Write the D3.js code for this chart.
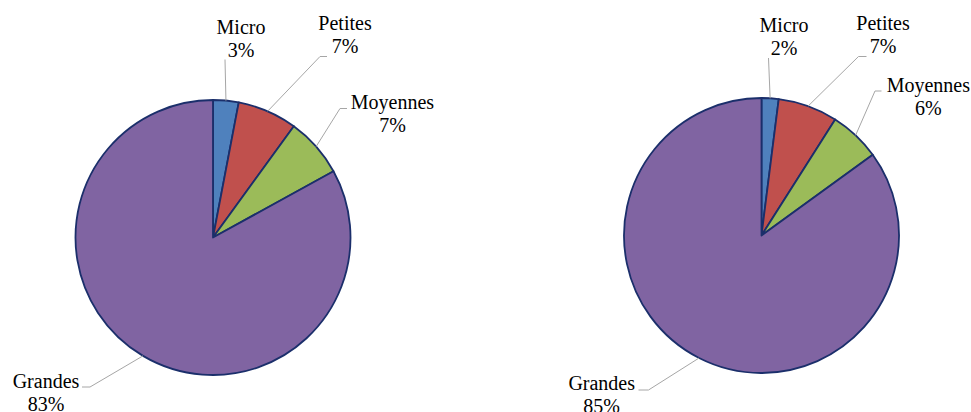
<!DOCTYPE html>
<html>
<head>
<meta charset="utf-8">
<script src="https://cdn.jsdelivr.net/npm/d3@7"></script>
<style>
  html, body { margin: 0; padding: 0; background: #fff; }
  svg { display: block; }
</style>
</head>
<body>
<svg id="chart" width="971" height="412"></svg>
<script>
// Company size categories and their shares (%) for the two pies
const categories = ["Micro", "Petites", "Moyennes", "Grandes"];
const sharesLeft = [3, 7, 7, 83];
const sharesRight = [2, 7, 6, 85];

const colors = d3.scaleOrdinal()
  .domain(categories)
  .range(["#4F81BD", "#C0504D", "#9BBB59", "#8064A2"]);

// Pie placement and label placement (offsets from pie centre)
const pies = [
  {
    values: sharesLeft, cx: 213, cy: 237.5, r: 137.5,
    labels: {
      Micro:    { tx: 28,    ty: -203.5, elbow: null,        end: [12, -178] },
      Petites:  { tx: 132,   ty: -208,   elbow: [107, -181], end: [114, -181] },
      Moyennes: { tx: 179.5, ty: -129,   elbow: [127, -129], end: [134, -129] },
      Grandes:  { tx: -167,  ty: 150,    elbow: [-123, 149.5], end: [-131, 149.5] }
    }
  },
  {
    values: sharesRight, cx: 761.5, cy: 235.5, r: 137.5,
    labels: {
      Micro:    { tx: 22.5,   ty: -203.5, elbow: null,            end: [7, -177.5] },
      Petites:  { tx: 121.5,  ty: -205.5, elbow: [97, -179],      end: [105, -179] },
      Moyennes: { tx: 166.8,  ty: -143.8, elbow: [113.5, -144.5], end: [120, -144.5] },
      Grandes:  { tx: -159.8, ty: 154.5,  elbow: [-113, 154.5],   end: [-123, 154.5] }
    }
  }
];

const svg = d3.select("#chart");
const labelLayer = [];

const pie = d3.pie().sort(null).value(d => d.value)
  .startAngle(0).endAngle(2 * Math.PI);

pies.forEach(p => {
  const data = categories.map((c, i) => ({ category: c, value: p.values[i] }));
  const arcs = pie(data);
  const arc = d3.arc().innerRadius(0).outerRadius(p.r);

  const g = svg.append("g").attr("transform", `translate(${p.cx},${p.cy})`);

  g.selectAll("path.slice")
    .data(arcs)
    .join("path")
    .attr("class", "slice")
    .attr("d", arc)
    .attr("fill", d => colors(d.data.category))
    .attr("stroke", "#1B2F6B")
    .attr("stroke-width", 1.8)
    .attr("stroke-linejoin", "round");

  // Leader lines from the slice rim to the label
  g.selectAll("path.leader")
    .data(arcs)
    .join("path")
    .attr("class", "leader")
    .attr("fill", "none")
    .attr("stroke", "#A6A6A6")
    .attr("stroke-width", 1)
    .attr("d", d => {
      const mid = (d.startAngle + d.endAngle) / 2;
      const rim = [p.r * Math.sin(mid), -p.r * Math.cos(mid)];
      const lab = p.labels[d.data.category];
      const pts = [rim];
      if (lab.elbow) pts.push(lab.elbow);
      pts.push(lab.end);
      return d3.line()(pts);
    });

  arcs.forEach(d => {
    const lab = p.labels[d.data.category];
    labelLayer.push({ x: p.cx + lab.tx, y: p.cy + lab.ty, text: d.data.category });
    labelLayer.push({ x: p.cx + lab.tx, y: p.cy + lab.ty + 23, text: d.data.value + "%" });
  });
});

// Two-line labels: category name, then percentage, centred on x
svg.selectAll("text.lbl")
  .data(labelLayer)
  .join("text")
  .attr("class", "lbl")
  .attr("font-family", "Liberation Serif")
  .attr("font-size", "20")
  .attr("y", d => d.y)
  .text(d => d.text)
  .attr("x", function(d) { return d.x - this.getComputedTextLength() / 2; });
</script>
</body>
</html>
